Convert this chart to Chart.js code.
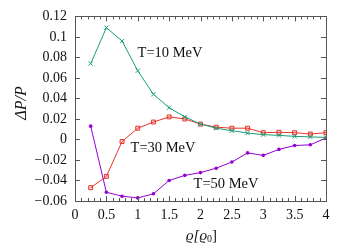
<!DOCTYPE html>
<html><head><meta charset="utf-8">
<script src="https://cdn.jsdelivr.net/npm/chart.js@4/dist/chart.umd.min.js"></script>
<style>html,body{margin:0;padding:0;background:#fff}#w{width:350px;height:245px}</style>
</head><body><div id="w"><canvas id="c" width="350" height="245"></canvas></div>
<script>
const densities = [0.25,0.5,0.75,1,1.25,1.5,1.75,2,2.25,2.5,2.75,3,3.25,3.5,3.75,4];
const seriesT10 = [0.074,0.109,0.096,0.067,0.044,0.031,0.022,0.015,0.011,0.0085,0.0063,0.0047,0.004,0.003,0.0025,0.002];
const seriesT30 = [-0.047,-0.036,-0.002,0.011,0.017,0.022,0.020,0.015,0.012,0.011,0.011,0.0066,0.007,0.0066,0.0053,0.0066];
const seriesT50 = [0.013,-0.0515,-0.0553,-0.057,-0.053,-0.040,-0.035,-0.0323,-0.028,-0.022,-0.0131,-0.0155,-0.0097,-0.0059,-0.0052,0.0015];
const seriesNames = ['T=10 MeV','T=30 MeV','T=50 MeV'];
const xTicks = [0,0.5,1,1.5,2,2.5,3,3.5,4];
const yTicks = [-0.06,-0.04,-0.02,0,0.02,0.04,0.06,0.08,0.1,0.12];
const labelPos = [[170,53],[163,148],[226,184]];

const FONT = '"Liberation Serif","DejaVu Serif",serif';
const AX = '#555';
const toPts = arr => arr.map((v,i)=>({x:densities[i], y:v}));

const framePlugin = {
  id:'frame',
  afterDraw(chart){
    const {ctx, chartArea:a, scales:{x,y}} = chart;
    ctx.save();
    ctx.strokeStyle = AX; ctx.lineWidth = 1;
    ctx.strokeRect(Math.round(a.left)+0.5, Math.round(a.top)+0.5, Math.round(a.right-a.left), Math.round(a.bottom-a.top));
    ctx.beginPath();
    for (let k=0;k<=40;k++){
      const v = k/10;
      const px = Math.round(x.getPixelForValue(v))+0.5;
      const len = (k%5===0)?5:3;
      ctx.moveTo(px,a.bottom); ctx.lineTo(px,a.bottom-len);
      ctx.moveTo(px,a.top); ctx.lineTo(px,a.top+len);
    }
    yTicks.forEach(v=>{
      const py = Math.round(y.getPixelForValue(v))+0.5;
      ctx.moveTo(a.left,py); ctx.lineTo(a.left+5,py);
      ctx.moveTo(a.right,py); ctx.lineTo(a.right-5,py);
    });
    ctx.stroke();
    ctx.fillStyle = '#111';
    ctx.font = '14.5px ' + FONT;
    ctx.textAlign='center'; ctx.textBaseline='middle';
    seriesNames.forEach((n,i)=>ctx.fillText(n, labelPos[i][0], labelPos[i][1]));
    // x title
    ctx.textAlign='left';
    ctx.font = 'italic 15px ' + FONT;
    let xx = 186;
    ctx.fillText('ϱ[ϱ', xx, 236);
    xx += ctx.measureText('ϱ[ϱ').width;
    ctx.font = '10px ' + FONT;
    ctx.fillText('0', xx, 239);
    xx += ctx.measureText('0').width;
    ctx.font = '15px ' + FONT;
    ctx.fillText(']', xx, 236);
    // y title
    ctx.textAlign='center';
    ctx.translate(22,103); ctx.rotate(-Math.PI/2);
    ctx.font = 'italic 16px ' + FONT;
    ctx.fillText('ΔP/P',0,0);
    ctx.restore();
  }
};

new Chart(document.getElementById('c'), {
  type:'scatter',
  data:{datasets:[
    {label:seriesNames[0], data:toPts(seriesT10), showLine:true, borderColor:'#1a9e77', backgroundColor:'#1a9e77', borderWidth:1, pointStyle:'crossRot', pointRadius:3, pointBorderWidth:1},
    {label:seriesNames[1], data:toPts(seriesT30), showLine:true, borderColor:'#e8352b', backgroundColor:'rgba(232,53,43,0.15)', borderWidth:1, pointStyle:'rect', pointRadius:2.8, pointBorderWidth:1},
    {label:seriesNames[2], data:toPts(seriesT50), showLine:true, borderColor:'#9400d3', backgroundColor:'#9400d3', borderWidth:1, pointStyle:'circle', pointRadius:1.8, pointBorderWidth:0},
  ]},
  options:{
    responsive:false, animation:false, devicePixelRatio:1,
    layout:{padding:{top:13,right:24,left:0,bottom:0}},
    plugins:{legend:{display:false}, tooltip:{enabled:false}},
    scales:{
      x:{type:'linear', min:0, max:4,
        afterBuildTicks(s){ s.ticks = xTicks.map(v=>({value:v})); },
        afterFit(s){ s.height = 44; },
        grid:{display:false, drawTicks:false}, border:{display:false},
        ticks:{padding:6, color:'#111', font:{family:FONT, size:14},
          callback:v=>String(v)}
      },
      y:{min:-0.06, max:0.12,
        afterBuildTicks(s){ s.ticks = yTicks.map(v=>({value:v})); },
        afterFit(s){ s.width = 75; },
        grid:{display:false, drawTicks:false}, border:{display:false},
        ticks:{padding:8, color:'#111', font:{family:FONT, size:14},
          callback:v=>{ const r=Math.round(v*100)/100; return (r===0?'0':String(r)).replace('-','−'); }}
      }
    }
  },
  plugins:[framePlugin]
});
</script></body></html>
